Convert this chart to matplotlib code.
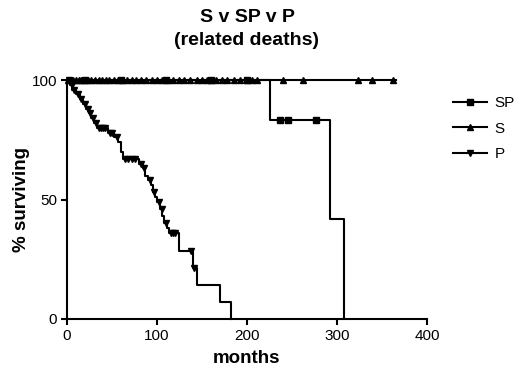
import numpy as np
import matplotlib
matplotlib.use("Agg")
import matplotlib.pyplot as plt
from matplotlib.lines import Line2D

plt.rcParams['font.family'] = ['Liberation Sans', 'DejaVu Sans']

# ---- data (Kaplan-Meier steps) ----
groups = ["SP", "S", "P"]

sp_event_times = [0, 225, 292, 308]
sp_surv = [100, 83.3, 41.7, 0]
sp_censor = [20, 60, 110, 160, 200, 237, 245, 277]

s_event_times = [0, 365]
s_surv = [100, 100]
s_censor = [1, 4, 7, 10, 13, 16, 19, 23, 27, 31, 35, 39, 43, 47, 52, 57, 62, 67,
            72, 77, 82, 88, 94, 100, 106, 112, 118, 124, 130, 137, 144, 150,
            155, 160, 166, 172, 178, 185, 192, 200, 206, 211, 240, 262, 323,
            339, 362]

p_event_times = [0, 3, 6, 10, 14, 18, 21, 24, 27, 30, 33, 45, 52, 57, 60, 62,
                 80, 84, 87, 90, 93, 95, 98, 100, 103, 106, 108, 111, 113,
                 124, 140, 144, 170, 182]
p_surv = [100, 98, 96, 94, 92, 90, 88, 86, 84, 82, 80, 78, 76, 74, 70, 67,
          65, 63, 60, 58, 56, 53, 51, 49, 46, 43, 40, 38, 36,
          28.6, 21.4, 14.3, 7.1, 0]
p_censor = [2, 5, 8, 12, 16, 20, 23, 26, 29, 32, 35, 38, 40, 42, 48, 50, 55,
            64, 68, 72, 76, 82, 86, 92, 97, 102, 105, 110, 116, 118, 120, 138,
            141]

x_ticks = [0, 100, 200, 300, 400]
y_ticks = [0, 50, 100]

fig = plt.figure(figsize=(5.2, 3.77), dpi=100)
ax = fig.add_axes([67/520, 1-319/377, 360/520, 239/377])

markers = {"SP": "s", "S": "^", "P": "v"}
data = {
    "SP": (sp_event_times, sp_surv, sp_censor),
    "S": (s_event_times, s_surv, s_censor),
    "P": (p_event_times, p_surv, p_censor),
}

for g in groups:
    t, s, c = data[g]
    t = np.asarray(t, float)
    s = np.asarray(s, float)
    ax.step(t, s, where='post', color='black', lw=1.5, clip_on=False, zorder=3)
    c = np.asarray(c, float)
    idx = np.searchsorted(t, c, side='right') - 1
    ax.plot(c, s[idx], linestyle='none', marker=markers[g], color='black',
            markersize=4.5, clip_on=False, zorder=4)

ax.set_xlim(0, 400)
ax.set_ylim(0, 100)
ax.set_xticks(x_ticks)
ax.set_yticks(y_ticks)
for sp in ['top', 'right']:
    ax.spines[sp].set_visible(False)
for sp in ['left', 'bottom']:
    ax.spines[sp].set_linewidth(1.5)
ax.tick_params(direction='out', length=4, width=1.5, labelsize=11, pad=3)

ax.set_xlabel("months", fontsize=13.5, fontweight='bold', labelpad=5)
ax.set_ylabel("% surviving", fontsize=13.5, fontweight='bold', labelpad=1)
fig.text(247/520, 1-29/377, "S v SP v P\n(related deaths)", ha='center',
         va='center', fontsize=14, fontweight='bold', linespacing=1.45)

handles = [Line2D([], [], color='black', lw=1.5, marker=markers[g], markersize=4.5)
           for g in groups]
fig.legend(handles, groups, loc='upper left', bbox_to_anchor=(447/520, 1-90/377),
           frameon=False, fontsize=11, handlelength=2.2, handletextpad=0.5,
           labelspacing=0.75, borderaxespad=0)

fig.savefig("out.png", dpi=100)
